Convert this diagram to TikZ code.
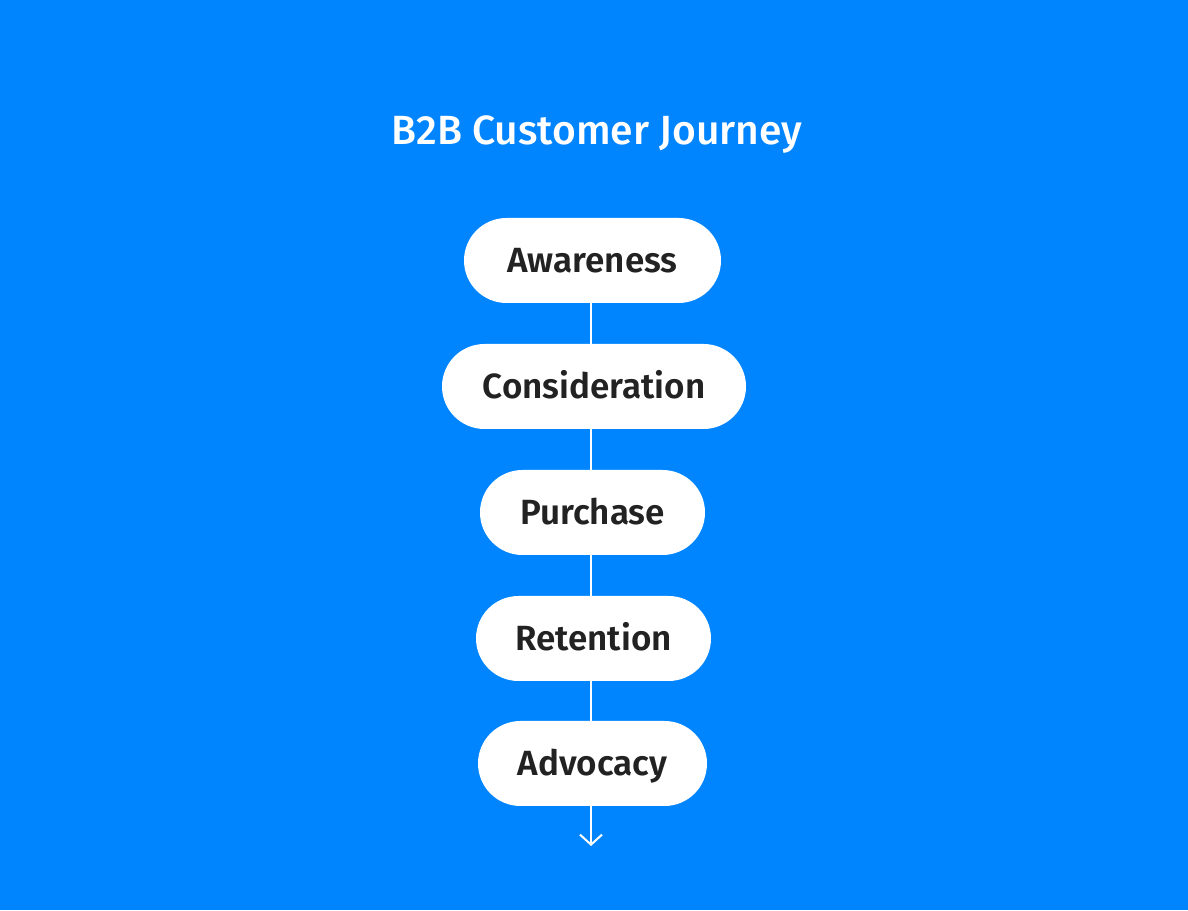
\documentclass[tikz,border=0pt]{standalone}
\usepackage{fontspec}
\setmainfont{Fira Sans}
\newfontfamily\titlefont{Fira Sans Medium}
\newfontfamily\labelfont{Fira Sans SemiBold}
\usetikzlibrary{arrows.meta}
\definecolor{bgblue}{HTML}{0085FF}
\definecolor{ink}{HTML}{222222}
\tikzset{
  stage/.style={draw=none, fill=white, rounded corners=42.5pt, minimum height=85pt,
    inner xsep=0pt, inner ysep=0pt, text height=25pt, text depth=0pt, text=ink,
    font=\fontsize{35}{40}\selectfont\labelfont},
  link/.style={draw=white, line width=2pt},
}
\begin{document}
\begin{tikzpicture}[x=1pt,y=1pt]
\fill[bgblue] (0,0) rectangle (1188,910);
\useasboundingbox (0,0) rectangle (1188,910);
\node[text=white, font=\fontsize{40.8}{46}\selectfont\titlefont, anchor=base] (title) at (597,765) {B2B Customer Journey};
\node[stage, minimum width=257pt] (a) at (592.5,649.5) {Awareness};
\node[stage, minimum width=304pt] (c) at (594,523.5) {Consideration};
\node[stage, minimum width=225pt] (p) at (592.5,397.5) {Purchase};
\node[stage, minimum width=235pt] (r) at (593.5,271.5) {Retention};
\node[stage, minimum width=229pt] (d) at (592.5,146.5) {Advocacy};
\coordinate (end) at (591,64);
\draw[link] (a.south -| 591,0) -- (c.north -| 591,0);
\draw[link] (c.south -| 591,0) -- (p.north -| 591,0);
\draw[link] (p.south -| 591,0) -- (r.north -| 591,0);
\draw[link] (r.south -| 591,0) -- (d.north -| 591,0);
\draw[link, -{Straight Barb[length=10pt,width=22pt,line width=2pt]}] (d.south -| 591,0) -- (end);
\end{tikzpicture}
\end{document}
